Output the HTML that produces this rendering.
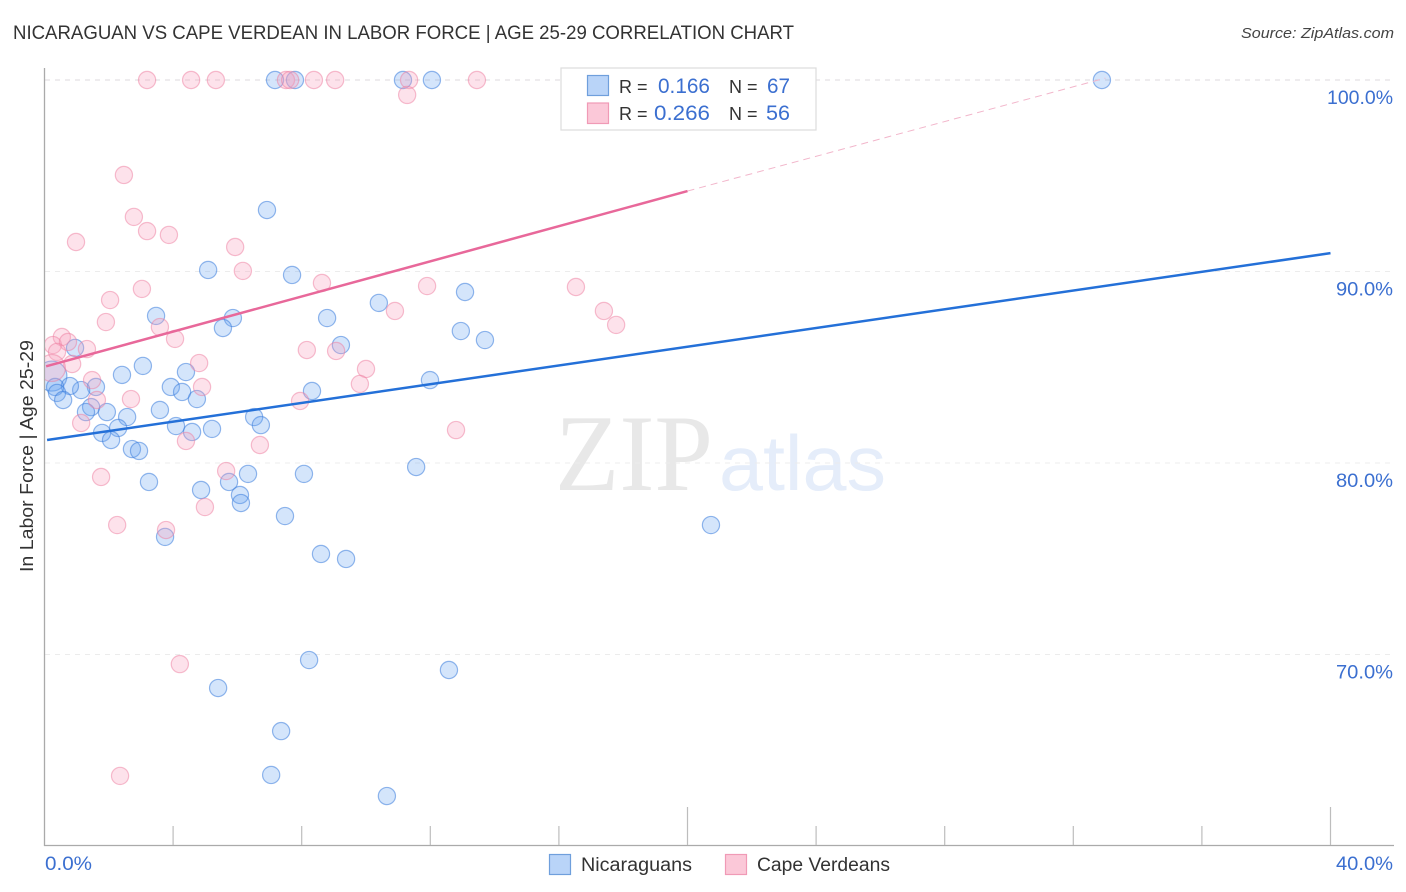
<!DOCTYPE html>
<html lang="en">
<head>
<meta charset="utf-8">
<title>Nicaraguan vs Cape Verdean in Labor Force | Age 25-29 Correlation Chart</title>
<style>
html,body{margin:0;padding:0;background:#fff;width:1406px;height:892px;overflow:hidden}
svg{display:block;font-family:"Liberation Sans",sans-serif}
</style>
</head>
<body>
<svg id="chart" width="1406" height="892" viewBox="0 0 1406 892" xmlns="http://www.w3.org/2000/svg">
  <defs><clipPath id="plot-clip"><rect x="45" y="60" width="1360" height="785"/></clipPath></defs>
  <text x="13" y="39" font-size="19" fill="#333" textLength="781" lengthAdjust="spacingAndGlyphs">NICARAGUAN VS CAPE VERDEAN IN LABOR FORCE | AGE 25-29 CORRELATION CHART</text>
  <text x="1394" y="38" font-size="15" font-style="italic" fill="#444" text-anchor="end" textLength="153" lengthAdjust="spacingAndGlyphs">Source: ZipAtlas.com</text>

  <g>
    <text x="555" y="490" font-family="'Liberation Serif',serif" font-size="109" fill="#e8e8e8" textLength="158" lengthAdjust="spacingAndGlyphs">ZIP</text>
    <text x="719" y="490" font-size="78" fill="#e5edfa" textLength="167" lengthAdjust="spacingAndGlyphs">atlas</text>
  </g>

  <g id="grid"></g>
  <g id="axes"></g>
  <g id="points" clip-path="url(#plot-clip)"></g>
  <g id="trends"></g>

  <text transform="translate(33,572) rotate(-90)" font-size="18" fill="#333" textLength="232" lengthAdjust="spacingAndGlyphs">In Labor Force | Age 25-29</text>

  <g>
    <rect x="561" y="68" width="255" height="62" fill="#fff" stroke="#dcdcdc" stroke-width="1.2"/>
    <rect x="587.5" y="75.5" width="21" height="20" fill="#b9d4f8" stroke="#6f9fdc" stroke-width="1.2"/>
    <rect x="587.5" y="103" width="21" height="20.5" fill="#fbc8d8" stroke="#f09ab6" stroke-width="1.2"/>
    <text x="619" y="93" font-size="18" fill="#333">R =</text>
    <text x="658" y="93" font-size="21" fill="#3b6fd0" textLength="52" lengthAdjust="spacingAndGlyphs">0.166</text>
    <text x="729" y="93" font-size="18" fill="#333">N =</text>
    <text x="767" y="93" font-size="21" fill="#3b6fd0" textLength="23" lengthAdjust="spacingAndGlyphs">67</text>
    <text x="619" y="120" font-size="18" fill="#333">R =</text>
    <text x="654" y="120" font-size="21" fill="#3b6fd0" textLength="56" lengthAdjust="spacingAndGlyphs">0.266</text>
    <text x="729" y="120" font-size="18" fill="#333">N =</text>
    <text x="766" y="120" font-size="21" fill="#3b6fd0" textLength="24" lengthAdjust="spacingAndGlyphs">56</text>
  </g>

  <g>
    <rect x="549.5" y="854.5" width="21" height="20" fill="#b9d4f8" stroke="#6f9fdc" stroke-width="1.2"/>
    <text x="581" y="871" font-size="19" fill="#333" textLength="111" lengthAdjust="spacingAndGlyphs">Nicaraguans</text>
    <rect x="725.5" y="854.5" width="21" height="20" fill="#fbc8d8" stroke="#f09ab6" stroke-width="1.2"/>
    <text x="757" y="871" font-size="19" fill="#333" textLength="133" lengthAdjust="spacingAndGlyphs">Cape Verdeans</text>
  </g>
</svg>
<script>
const yTicks = [100, 90, 80, 70];
const yTickLabels = ['100.0%', '90.0%', '80.0%', '70.0%'];
const xTicks = [0, 4, 8, 12, 16, 20, 24, 28, 32, 36, 40];
const xMajorTicks = [20, 40];
const xEndLabels = ['0.0%', '40.0%'];

const nicaraguanX = [7.17,7.79,11.15,12.05,32.89,6.92,5.09,7.70,13.08,10.40,3.47,5.86,8.79,5.55,12.95,13.70,9.22,0.95,3.06,2.41,4.40,11.99,0.23,3.93,4.28,4.74,8.32,1.60,1.14,0.79,0.33,0.39,0.58,1.45,1.29,1.94,2.57,2.29,1.79,2.07,3.59,4.09,4.59,5.21,6.52,6.73,2.72,2.94,3.25,4.87,5.74,6.33,8.07,6.08,6.11,7.48,11.56,3.75,8.60,9.38,20.73,8.23,12.58,5.40,7.36,7.05,10.65];
const nicaraguanY = [100,100,100,100,100,93.21,90.08,89.82,88.93,88.36,87.68,87.57,87.57,87.05,86.89,86.42,86.16,86.01,85.07,84.60,84.75,84.33,84.54,83.97,83.71,83.34,83.76,83.97,83.81,84.02,83.97,83.66,83.29,82.92,82.66,82.66,82.40,81.83,81.57,81.20,82.77,81.93,81.62,81.78,82.40,81.98,80.73,80.63,79.01,78.59,79.01,79.43,79.43,78.33,77.91,77.23,79.79,76.14,75.25,74.99,76.76,69.71,69.19,68.25,66.0,63.71,62.61];
const nicaraguanLarge = [22];

const capeVerdeanX = [3.19,4.56,5.33,7.51,7.64,8.38,9.04,11.34,13.45,11.28,2.47,2.78,3.19,3.87,0.98,5.93,6.17,8.63,11.90,16.53,3.03,2.04,17.40,10.90,17.78,1.91,3.59,4.06,8.16,9.07,0.54,0.26,0.73,1.32,0.39,4.81,0.86,10.0,0.23,9.81,1.48,4.90,1.63,2.69,7.95,1.14,12.80,4.40,6.70,5.65,1.76,4.99,2.26,3.78,4.21,2.35];
const capeVerdeanY = [100,100,100,100,100,100,100,100,100,99.22,95.04,92.85,92.11,91.91,91.54,91.28,90.03,89.40,89.24,89.19,89.09,88.51,87.94,87.94,87.21,87.36,87.10,86.48,85.90,85.85,86.58,86.16,86.32,85.95,85.80,85.22,85.17,84.91,84.96,84.13,84.33,83.97,83.29,83.34,83.24,82.09,81.72,81.15,80.94,79.58,79.27,77.70,76.76,76.50,69.50,63.66];
const capeVerdeanLarge = [38];

const nicaraguanTrendX = [0.08, 40];
const nicaraguanTrendY = [81.2, 90.96];
const capeVerdeanTrendX = [0.05, 20];
const capeVerdeanTrendY = [85.05, 94.2];
const capeVerdeanProjectionX = [20, 33];
const capeVerdeanProjectionY = [94.2, 100.1];

const NS = 'http://www.w3.org/2000/svg';
const xScale = v => 44.5 + v * 32.15;
const yScale = v => 80 + (100 - v) * 19.15;

function make(tag, attrs, parent) {
  const el = document.createElementNS(NS, tag);
  for (const k in attrs) el.setAttribute(k, attrs[k]);
  parent.appendChild(el);
  return el;
}

const grid = document.getElementById('grid');
const axes = document.getElementById('axes');
const points = document.getElementById('points');
const trends = document.getElementById('trends');

yTicks.forEach((t, i) => {
  const line = make('line', {x1: 45, x2: 1393, y1: yScale(t), y2: yScale(t), stroke: i === 0 ? '#ddd8dc' : '#ececec', 'stroke-width': 1, 'stroke-dasharray': '5 5'}, grid);
  
  
  const label = make('text', {x: 1393, y: yScale(t) + 24, 'text-anchor': 'end', 'font-size': 19, fill: '#3b6fd0', textLength: i === 0 ? 66 : 57, lengthAdjust: 'spacingAndGlyphs'}, axes);
  label.textContent = yTickLabels[i];
  
  
});

const yAxis = make('line', {x1: 44.5, x2: 44.5, y1: 68, y2: 846, stroke: '#aaa', 'stroke-width': 1.3}, axes);


const xAxis = make('line', {x1: 44, x2: 1394, y1: 845.5, y2: 845.5, stroke: '#aaa', 'stroke-width': 1.3}, axes);



xTicks.slice(1).forEach(t => {
  const top = xMajorTicks.includes(t) ? 807 : 826;
  const tick = make('line', {x1: xScale(t), x2: xScale(t), y1: top, y2: 845, stroke: '#bdbdbd', 'stroke-width': 1.2}, axes);
  
  
});

const xLabelLeft = make('text', {x: 45, y: 870, 'font-size': 19, fill: '#3b6fd0', textLength: 47, lengthAdjust: 'spacingAndGlyphs'}, axes);
xLabelLeft.textContent = xEndLabels[0];


const xLabelRight = make('text', {x: 1393, y: 870, 'font-size': 19, 'text-anchor': 'end', fill: '#3b6fd0', textLength: 57, lengthAdjust: 'spacingAndGlyphs'}, axes);
xLabelRight.textContent = xEndLabels[1];



nicaraguanX.forEach((v, i) => {
  const large = nicaraguanLarge.includes(i);
  const c = make('circle', {cx: xScale(v), cy: yScale(nicaraguanY[i]), r: large ? 15 : 8.6, fill: 'rgba(100,160,240,0.28)', stroke: 'rgba(60,125,220,0.55)', 'stroke-width': 1.2}, points);
  
  
});

capeVerdeanX.forEach((v, i) => {
  const large = capeVerdeanLarge.includes(i);
  const c = make('circle', {cx: xScale(v), cy: yScale(capeVerdeanY[i]), r: large ? 13.5 : 8.6, fill: 'rgba(248,160,190,0.3)', stroke: 'rgba(238,125,160,0.5)', 'stroke-width': 1.2}, points);
  
  
});

const blueTrend = make('line', {x1: xScale(nicaraguanTrendX[0]), y1: yScale(nicaraguanTrendY[0]), x2: xScale(nicaraguanTrendX[1]), y2: yScale(nicaraguanTrendY[1]), stroke: '#2470d8', 'stroke-width': 2.5}, trends);


const pinkTrend = make('line', {x1: xScale(capeVerdeanTrendX[0]), y1: yScale(capeVerdeanTrendY[0]), x2: xScale(capeVerdeanTrendX[1]), y2: yScale(capeVerdeanTrendY[1]), stroke: '#e8689a', 'stroke-width': 2.5}, trends);


const pinkProjection = make('line', {x1: xScale(capeVerdeanProjectionX[0]), y1: yScale(capeVerdeanProjectionY[0]), x2: xScale(capeVerdeanProjectionX[1]), y2: yScale(capeVerdeanProjectionY[1]), stroke: '#f2b6cb', 'stroke-width': 1, 'stroke-dasharray': '7 5'}, trends);


</script>
</body>
</html>
